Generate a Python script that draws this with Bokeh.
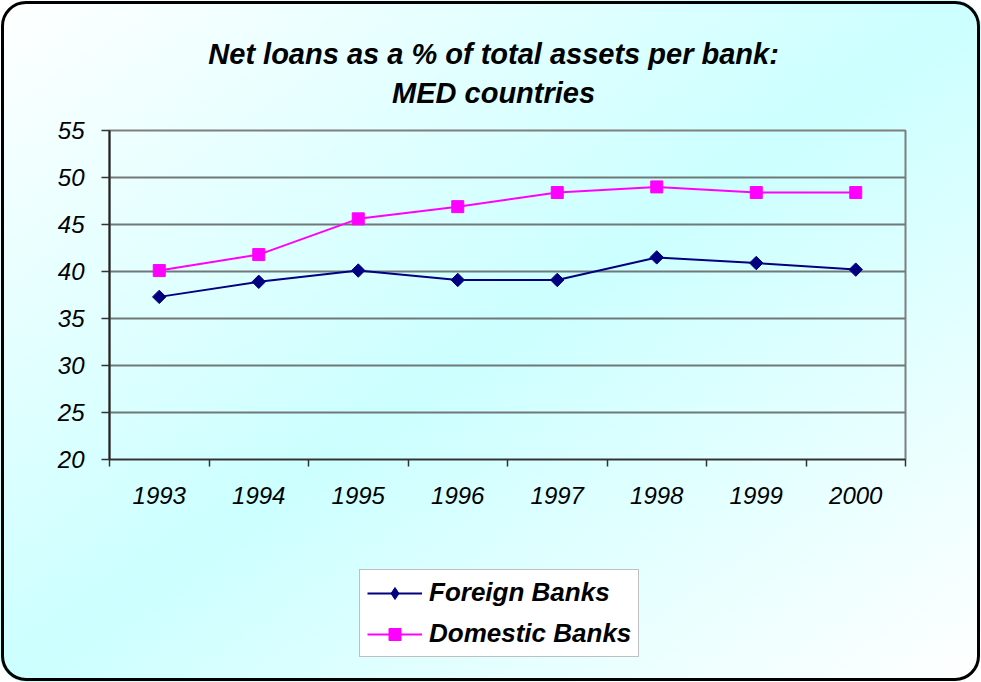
import math
from bokeh.plotting import figure
from bokeh.layouts import column
from bokeh.core.properties import value
from bokeh.models import (FixedTicker, Legend, LegendItem, Range1d)
from bokeh.embed import file_html
from bokeh.resources import INLINE

years = ["1993", "1994", "1995", "1996", "1997", "1998", "1999", "2000"]
foreign_banks = [37.3, 38.9, 40.1, 39.1, 39.1, 41.5, 40.9, 40.2]
domestic_banks = [40.1, 41.8, 45.6, 46.9, 48.4, 49.0, 48.4, 48.4]
y_ticks = [20, 25, 30, 35, 40, 45, 50, 55]
title_lines = ["Net loans as a % of total assets per bank:", "MED countries"]
series_names = ["Foreign Banks", "Domestic Banks"]

FONT = "Liberation Sans"
navy = "#000080"
magenta = "#ff00ff"

xs = [i + 0.5 for i in range(len(years))]
x_range = Range1d(0, len(years))

# title strip
TITLE_H = 110
t = figure(width=981, height=TITLE_H, output_backend="svg", toolbar_location=None,
           x_range=x_range, y_range=Range1d(0, TITLE_H),
           x_axis_location=None, y_axis_location=None,
           min_border_left=0, min_border_right=0, min_border_top=0, min_border_bottom=0)
t.grid.visible = False
t.background_fill_alpha = 0
t.border_fill_alpha = 0
t.outline_line_color = None
t.text(x=[3.86, 3.86], y=[TITLE_H - 53, TITLE_H - 92], text=title_lines,
       text_align="center", text_baseline="alphabetic",
       text_font=value(FONT), text_font_size="29px", text_font_style="bold italic",
       text_color="black")

p = figure(width=981, height=560 - TITLE_H, output_backend="svg", toolbar_location=None,
           x_range=x_range, y_range=Range1d(y_ticks[0], y_ticks[-1]),
           min_border_left=109, min_border_right=76, min_border_top=130 - TITLE_H,
           min_border_bottom=101)
p.title = None
p.background_fill_alpha = 0
p.border_fill_alpha = 0
p.outline_line_color = "#7f7f7f"
p.outline_line_width = 2

# x axis
p.xaxis.ticker = FixedTicker(ticks=xs, minor_ticks=list(range(len(years) + 1)))
p.xaxis.major_label_overrides = {x: y for x, y in zip(xs, years)}
p.xaxis.major_tick_out = 0
p.xaxis.major_tick_in = 0
p.xaxis.minor_tick_out = 7
p.xaxis.minor_tick_in = 0
p.xaxis.minor_tick_line_color = "#333333"
p.xaxis.minor_tick_line_width = 1.5
p.xaxis.major_label_standoff = 20
p.xaxis.major_label_text_font = FONT
p.xaxis.major_label_text_font_size = "24px"
p.xaxis.major_label_text_font_style = "italic"
p.xaxis.major_label_text_color = "black"
p.xaxis.axis_line_color = "#333333"
p.xaxis.axis_line_width = 1.5
p.xgrid.visible = False

# y axis
p.yaxis.ticker = FixedTicker(ticks=y_ticks, minor_ticks=[])
p.yaxis.major_tick_out = 8
p.yaxis.major_tick_in = 0
p.yaxis.major_tick_line_color = "#333333"
p.yaxis.major_tick_line_width = 1.5
p.yaxis.minor_tick_line_color = None
p.yaxis.major_label_standoff = 17
p.yaxis.major_label_text_font = FONT
p.yaxis.major_label_text_font_size = "24px"
p.yaxis.major_label_text_font_style = "italic"
p.yaxis.major_label_text_color = "black"
p.yaxis.axis_line_color = "#222222"
p.yaxis.axis_line_width = 2
p.ygrid.ticker = FixedTicker(ticks=y_ticks)
p.ygrid.grid_line_color = "#707878"
p.ygrid.grid_line_width = 2

p.line(xs, foreign_banks, line_color=navy, line_width=2)
p.scatter(xs, foreign_banks, marker="square", size=9.5, angle=math.pi / 4,
          fill_color=navy, line_color=navy)
p.line(xs, domestic_banks, line_color=magenta, line_width=2)
p.scatter(xs, domestic_banks, marker="square", size=12, fill_color=magenta, line_color=magenta)

# legend strip below the chart (its renderers sit outside its own visible range)
q = figure(width=981, height=122, output_backend="svg", toolbar_location=None,
           x_range=Range1d(-20, -10), y_range=Range1d(0, 1),
           x_axis_location=None, y_axis_location=None,
           min_border_left=0, min_border_right=0, min_border_top=0, min_border_bottom=0)
q.grid.visible = False
q.background_fill_alpha = 0
q.border_fill_alpha = 0
q.outline_line_color = None
ql1 = q.line(xs, foreign_banks, line_color=navy, line_width=2)
qm1 = q.scatter(xs, foreign_banks, marker="diamond", size=15,
                fill_color=navy, line_color=navy)
ql2 = q.line(xs, domestic_banks, line_color=magenta, line_width=2)
qm2 = q.scatter(xs, domestic_banks, marker="square", size=12, fill_color=magenta, line_color=magenta)

legend = Legend(items=[LegendItem(label=series_names[0], renderers=[ql1, qm1]),
                       LegendItem(label=series_names[1], renderers=[ql2, qm2])],
                location=(250, 25), orientation="vertical",
                label_text_font=FONT, label_text_font_size="26px",
                label_text_font_style="bold italic", label_text_color="black",
                glyph_width=55, glyph_height=30, label_height=30, label_standoff=7,
                spacing=10, padding=7, margin=0,
                border_line_color="#7f7f7f", border_line_width=1,
                background_fill_color="white", background_fill_alpha=1)
q.add_layout(legend, "center")

layout = column(t, p, q, spacing=0, styles={
    "background": "linear-gradient(to bottom right, #ffffff 0%, #ccffff 50%, #ffffff 100%)",
    "border-radius": "26px",
    "outline": "3px solid #000000",
    "outline-offset": "-4px",
})

open("out.html", "w").write(file_html(layout, INLINE))
